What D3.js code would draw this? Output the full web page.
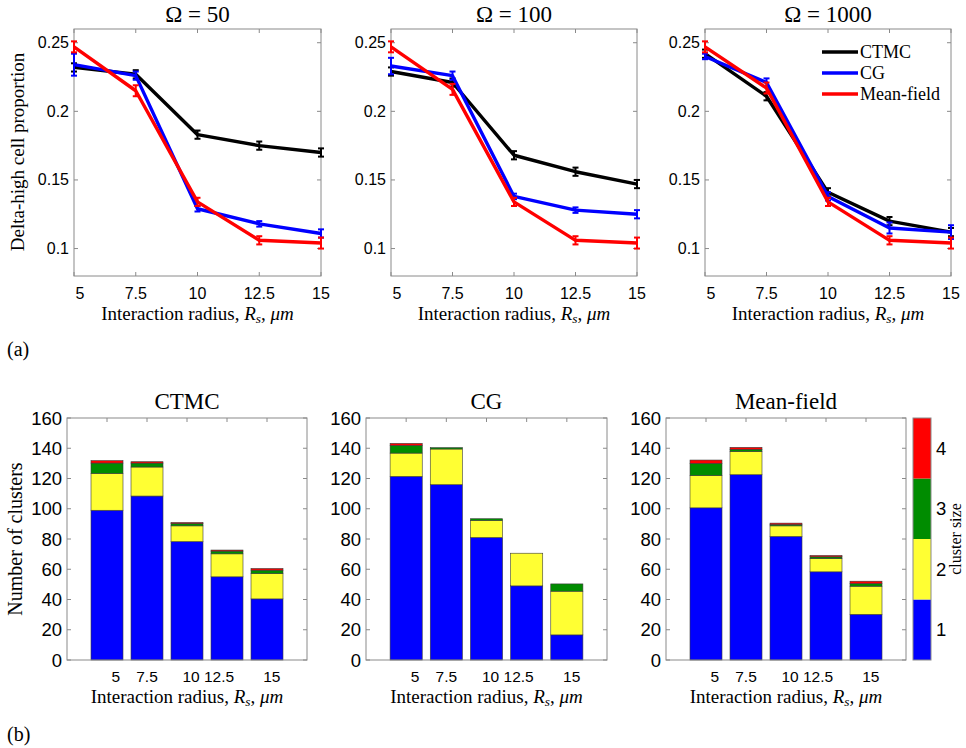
<!DOCTYPE html>
<html>
<head>
<meta charset="utf-8">
<script src="https://cdn.jsdelivr.net/npm/d3@7"></script>
<style>
  html, body { margin: 0; padding: 0; background: #fff; }
  svg { display: block; }
</style>
</head>
<body>
<svg id="fig" width="966" height="748"></svg>
<script>
// ---- data: delta-high cell proportion vs interaction radius ----
const radii = [5, 7.5, 10, 12.5, 15];
const omegas = [50, 100, 1000];
const seriesNames = ["CTMC", "CG", "Mean-field"];
const seriesColors = ["#000000", "#0000ff", "#ff0000"];
const propTicks = [0.1, 0.15, 0.2, 0.25];
const propTickLabels = ["0.1", "0.15", "0.2", "0.25"];
const radiusTickLabels = ["5", "7.5", "10", "12.5", "15"];

const ctmc50 = [0.232, 0.227, 0.183, 0.175, 0.170];
const cg50   = [0.234, 0.226, 0.129, 0.118, 0.111];
const mf50   = [0.247, 0.215, 0.134, 0.106, 0.104];
const ctmcErr50 = [0.003, 0.003, 0.003, 0.003, 0.003];
const cgErr50   = [0.008, 0.003, 0.002, 0.002, 0.003];
const mfErr50   = [0.004, 0.004, 0.003, 0.003, 0.004];

const ctmc100 = [0.229, 0.221, 0.168, 0.156, 0.147];
const cg100   = [0.233, 0.226, 0.138, 0.128, 0.125];
const mf100   = [0.247, 0.216, 0.134, 0.106, 0.104];
const ctmcErr100 = [0.003, 0.003, 0.003, 0.003, 0.003];
const cgErr100   = [0.006, 0.003, 0.002, 0.002, 0.003];
const mfErr100   = [0.004, 0.004, 0.003, 0.003, 0.004];

const ctmc1000 = [0.242, 0.211, 0.141, 0.120, 0.112];
const cg1000   = [0.240, 0.221, 0.138, 0.115, 0.112];
const mf1000   = [0.247, 0.217, 0.134, 0.106, 0.104];
const ctmcErr1000 = [0.003, 0.003, 0.003, 0.003, 0.003];
const cgErr1000   = [0.002, 0.003, 0.003, 0.004, 0.005];
const mfErr1000   = [0.004, 0.004, 0.003, 0.003, 0.004];

// ---- data: number of clusters by cluster size (1..4) ----
const clusterSizes = [1, 2, 3, 4];
const clusterColors = ["#0000ff", "#ffff33", "#008c00", "#ff0000"];
const barTickPos = [1.22, 2.0, 3.1, 3.8, 5.12]; // label anchors, in bar-index units
const countTicks = [0, 20, 40, 60, 80, 100, 120, 140, 160];

const ctmcCount1 = [99, 108.4, 78.3, 55, 40.4];
const ctmcCount2 = [24.4, 19.2, 10.4, 15.2, 16.8];
const ctmcCount3 = [6.8, 2.6, 1.5, 1.8, 2.2];
const ctmcCount4 = [1.6, 0.9, 0.7, 0.7, 1.1];

const cgCount1 = [121.4, 115.9, 81, 49, 16.6];
const cgCount2 = [15.4, 23.6, 11.3, 21.6, 28.9];
const cgCount3 = [5.1, 0.9, 1.1, 0, 4.8];
const cgCount4 = [1.3, 0, 0, 0, 0];

const mfCount1 = [100.6, 122.5, 81.7, 58.3, 30.2];
const mfCount2 = [21.4, 15.4, 7, 8.8, 18.6];
const mfCount3 = [8, 1.4, 0.9, 1.1, 1.7];
const mfCount4 = [2.2, 1.3, 0.9, 0.9, 1.6];

// ---- drawing ----
const svg = d3.select("#fig");
const boxColor = "#8a8a8a";
const serif = "'Liberation Serif', 'Times New Roman', serif";
const sans = "'Liberation Sans', Arial, Helvetica, sans-serif";

function addRadiusLabel(g, x, y, size) {
  const t = g.append("text").attr("x", x).attr("y", y)
    .attr("text-anchor", "middle").style("font-family", serif).style("font-size", size + "px");
  t.append("tspan").text("Interaction radius, ");
  t.append("tspan").style("font-style", "italic").text("R");
  t.append("tspan").style("font-style", "italic").style("font-size", (size * 0.7) + "px").attr("dy", 3).text("s");
  t.append("tspan").attr("dy", -3).text(", ");
  t.append("tspan").style("font-style", "italic").text("μm");
}

function drawBox(g, x0, x1, y0, y1) {
  g.append("rect").attr("x", x0).attr("y", y0)
    .attr("width", x1 - x0).attr("height", y1 - y0)
    .attr("fill", "none").attr("stroke", boxColor).attr("stroke-width", 1);
}

function serifText(g, x, y, size, txt, anchor) {
  return g.append("text").attr("x", x).attr("y", y)
    .attr("text-anchor", anchor || "middle")
    .style("font-family", serif).style("font-size", size + "px").text(txt);
}

function sansText(g, x, y, size, txt, anchor) {
  return g.append("text").attr("x", x).attr("y", y)
    .attr("text-anchor", anchor || "middle")
    .style("font-family", sans).style("font-size", size + "px").text(txt);
}

// Top row: line plots with error bars
const topPanels = [
  { omega: omegas[0], x0: 74, x1: 321, vals: [ctmc50, cg50, mf50], errs: [ctmcErr50, cgErr50, mfErr50] },
  { omega: omegas[1], x0: 391, x1: 637, vals: [ctmc100, cg100, mf100], errs: [ctmcErr100, cgErr100, mfErr100] },
  { omega: omegas[2], x0: 705, x1: 951, vals: [ctmc1000, cg1000, mf1000], errs: [ctmcErr1000, cgErr1000, mfErr1000], legend: true }
];
const topY0 = 29, topY1 = 276;

topPanels.forEach((p) => {
  const g = svg.append("g");
  const x = d3.scaleLinear().domain([5, 15]).range([p.x0, p.x1]);
  const y = d3.scaleLinear().domain([0.08, 0.26]).range([topY1, topY0]);

  // inward tick marks on all four sides
  const tl = 4;
  propTicks.forEach(v => {
    g.append("line").attr("x1", p.x0).attr("x2", p.x0 + tl).attr("y1", y(v)).attr("y2", y(v)).attr("stroke", boxColor);
    g.append("line").attr("x1", p.x1).attr("x2", p.x1 - tl).attr("y1", y(v)).attr("y2", y(v)).attr("stroke", boxColor);
  });
  radii.forEach(v => {
    g.append("line").attr("x1", x(v)).attr("x2", x(v)).attr("y1", topY0).attr("y2", topY0 + tl).attr("stroke", boxColor);
    g.append("line").attr("x1", x(v)).attr("x2", x(v)).attr("y1", topY1).attr("y2", topY1 - tl).attr("stroke", boxColor);
  });
  drawBox(g, p.x0, p.x1, topY0, topY1);

  // tick labels
  propTicks.forEach((v, i) => sansText(g, p.x0 - 5, y(v) + 5.5, 16, propTickLabels[i], "end"));
  radii.forEach((v, i) => sansText(g, x(v) + (i === 0 ? 6 : 0), 298.5, 16, radiusTickLabels[i]));

  // lines and error bars
  const line = d3.line().x((d, i) => x(radii[i])).y(d => y(d));
  p.vals.forEach((vals, si) => {
    const col = seriesColors[si];
    g.append("path").datum(vals).attr("d", line)
      .attr("fill", "none").attr("stroke", col).attr("stroke-width", 3.4)
      .attr("stroke-linejoin", "round");
    vals.forEach((v, i) => {
      const e = p.errs[si][i];
      const cx = x(radii[i]);
      const cap = 3;
      g.append("line").attr("x1", cx).attr("x2", cx).attr("y1", y(v - e)).attr("y2", y(v + e))
        .attr("stroke", col).attr("stroke-width", 2);
      g.append("line").attr("x1", cx - cap).attr("x2", cx + cap).attr("y1", y(v - e)).attr("y2", y(v - e))
        .attr("stroke", col).attr("stroke-width", 2);
      g.append("line").attr("x1", cx - cap).attr("x2", cx + cap).attr("y1", y(v + e)).attr("y2", y(v + e))
        .attr("stroke", col).attr("stroke-width", 2);
    });
  });

  // title
  const cx = (p.x0 + p.x1) / 2;
  serifText(g, cx, 22, 23, "Ω = " + p.omega);

  addRadiusLabel(g, cx, 320, 19);

  if (p.legend) {
    seriesNames.forEach((name, si) => {
      const ly = 52 + si * 21;
      g.append("line").attr("x1", 822).attr("x2", 858).attr("y1", ly).attr("y2", ly)
        .attr("stroke", seriesColors[si]).attr("stroke-width", 3.4);
      serifText(g, 860, ly + 6, 18, name, "start");
    });
  }
});

svg.append("text").attr("transform", "translate(24,152) rotate(-90)")
  .attr("text-anchor", "middle").style("font-family", serif).style("font-size", "19px")
  .text("Delta-high cell proportion");

serifText(svg, 7, 356, 20, "(a)", "start");
serifText(svg, 7, 741, 20, "(b)", "start");

// Bottom row: stacked bar charts of cluster counts
const botPanels = [
  { title: "CTMC", x0: 67, x1: 307, counts: [ctmcCount1, ctmcCount2, ctmcCount3, ctmcCount4] },
  { title: "CG", x0: 366, x1: 607, counts: [cgCount1, cgCount2, cgCount3, cgCount4] },
  { title: "Mean-field", x0: 666, x1: 906, counts: [mfCount1, mfCount2, mfCount3, mfCount4] }
];
const botY0 = 418, botY1 = 660;

botPanels.forEach(p => {
  const g = svg.append("g");
  const x = d3.scaleLinear().domain([0, 6]).range([p.x0, p.x1]);
  const y = d3.scaleLinear().domain([0, 160]).range([botY1, botY0]);

  const rows = radii.map((r, i) => {
    const o = { radius: r, idx: i + 1 };
    clusterSizes.forEach((s, k) => { o["s" + s] = p.counts[k][i]; });
    return o;
  });
  const stack = d3.stack().keys(clusterSizes.map(s => "s" + s))(rows);
  const bw = 0.8;

  const tl = 4;
  countTicks.forEach(v => {
    g.append("line").attr("x1", p.x0).attr("x2", p.x0 + tl).attr("y1", y(v)).attr("y2", y(v)).attr("stroke", boxColor);
    g.append("line").attr("x1", p.x1).attr("x2", p.x1 - tl).attr("y1", y(v)).attr("y2", y(v)).attr("stroke", boxColor);
  });
  radii.forEach((r, i) => {
    g.append("line").attr("x1", x(i + 1)).attr("x2", x(i + 1)).attr("y1", botY0).attr("y2", botY0 + tl).attr("stroke", boxColor);
  });

  stack.forEach((layer, k) => {
    g.selectAll(null).data(layer.filter(d => d[1] - d[0] > 0)).enter().append("rect")
      .attr("x", d => x(d.data.idx - bw / 2))
      .attr("width", x(bw) - x(0))
      .attr("y", d => y(d[1]))
      .attr("height", d => y(d[0]) - y(d[1]))
      .attr("fill", clusterColors[k])
      .attr("stroke", "#3a3a3a").attr("stroke-width", 0.6);
  });

  drawBox(g, p.x0, p.x1, botY0, botY1);

  countTicks.forEach(v => sansText(g, p.x0 - 5, y(v) + 6.5, 18.5, v, "end"));
  radiusTickLabels.forEach((lab, i) => sansText(g, x(barTickPos[i]), 682, 15.5, lab));

  const cx = (p.x0 + p.x1) / 2;
  serifText(g, cx, 409, 23, p.title);
  addRadiusLabel(g, cx, 703, 19);
});

svg.append("text").attr("transform", "translate(22,539) rotate(-90)")
  .attr("text-anchor", "middle").style("font-family", serif).style("font-size", "20px")
  .text("Number of clusters");

// colour bar for cluster size
const cb = svg.append("g");
const cbY = d3.scaleLinear().domain([0.5, 4.5]).range([botY1, botY0]);
clusterSizes.forEach((s, k) => {
  cb.append("rect").attr("x", 913).attr("width", 18)
    .attr("y", cbY(s + 0.5)).attr("height", cbY(s - 0.5) - cbY(s + 0.5))
    .attr("fill", clusterColors[k]);
});
cb.append("rect").attr("x", 913).attr("width", 18).attr("y", botY0).attr("height", botY1 - botY0)
  .attr("fill", "none").attr("stroke", boxColor);
clusterSizes.forEach(s => sansText(cb, 936, cbY(s) + 6.5, 18.5, s, "start"));
cb.append("text").attr("transform", "translate(961,539) rotate(-90)")
  .attr("text-anchor", "middle").style("font-family", serif).style("font-size", "16px")
  .text("cluster size");
</script>
</body>
</html>
